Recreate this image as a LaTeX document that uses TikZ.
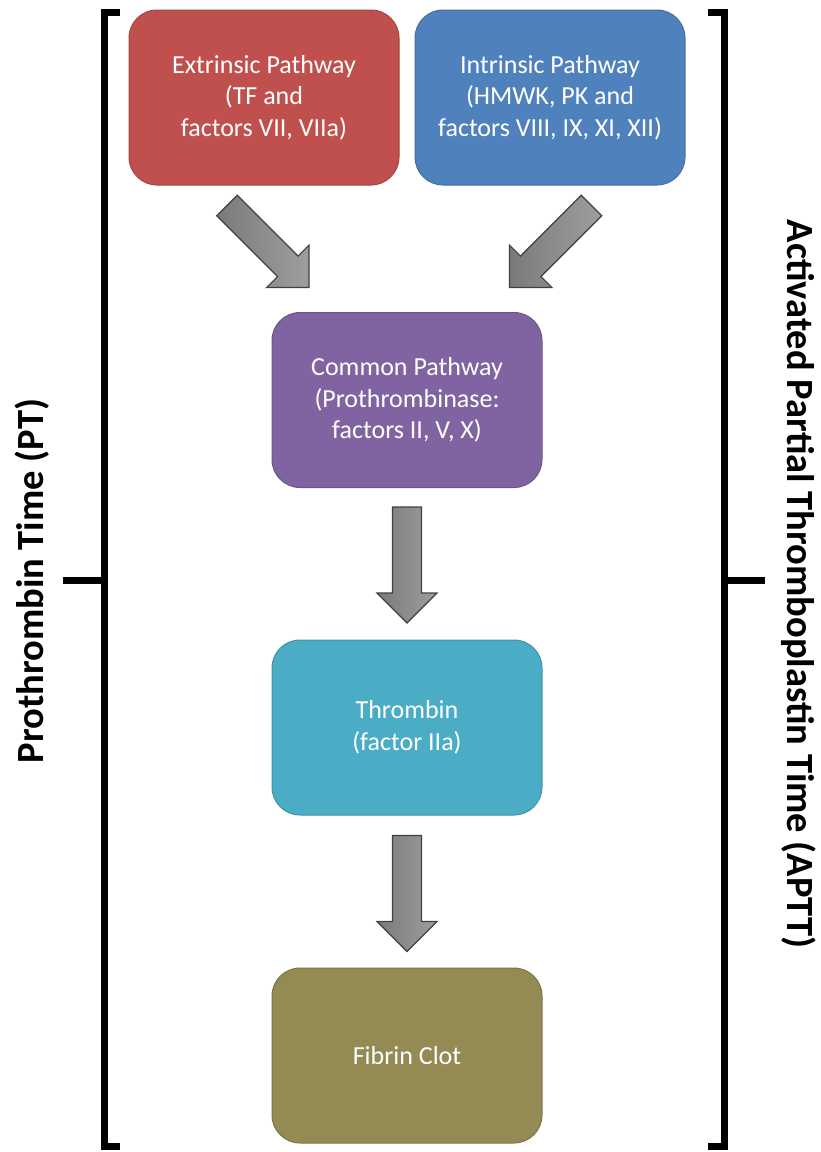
\documentclass[tikz,border=0pt]{standalone}
\usepackage{fontspec}
\setmainfont{Carlito}
\usetikzlibrary{calc}
\definecolor{cred}{HTML}{C0504D}
\definecolor{cblue}{HTML}{4F81BD}
\definecolor{cpurple}{HTML}{8064A2}
\definecolor{caqua}{HTML}{4BACC6}
\definecolor{colive}{HTML}{948A54}
\begin{document}
\begin{tikzpicture}[x=1pt,y=-1pt,
  box/.style={rectangle, rounded corners=28pt, minimum width=270pt, minimum height=175pt,
    inner sep=0pt, align=center, text=white, line width=1pt,
    font=\fontsize{26}{31.5}\selectfont},
  bracket/.style={line width=7pt, line join=miter, line cap=butt},
  vlabel/.style={font=\fontsize{38.5}{40}\selectfont\bfseries, inner sep=0pt, anchor=base},
  arrowbody/.style={left color=black!52, right color=black!38, draw=black!75, line width=1.2pt, line join=miter},
  blockarrow/.pic={\path[arrowbody] (0,-14.5) -- (86,-14.5) -- (86,-30) -- (116,0) -- (86,30) -- (86,14.5) -- (0,14.5) -- cycle;}
]
\useasboundingbox (0,0) rectangle (820,1152);

% boxes
\node[box, fill=cred, draw=cred!85!black] (ext) at (264,97.5) {Extrinsic Pathway\\(TF and\\factors VII, VIIa)};
\node[box, fill=cblue, draw=cblue!85!black] (int) at (550,97.5) {Intrinsic Pathway\\(HMWK, PK and\\factors VIII, IX, XI, XII)};
\node[box, fill=cpurple, draw=cpurple!85!black] (com) at (407,400) {Common Pathway\\(Prothrombinase:\\factors II, V, X)};
\node[box, fill=caqua, draw=caqua!85!black] (thr) at (407,727.5) {Thrombin\\(factor IIa)};
\node[box, fill=colive, draw=colive!85!black] (fib) at (407,1055.5) {Fibrin Clot};

% block arrows
\coordinate (a1) at ($(ext.south)+(-37,20)$);
\coordinate (a2) at ($(int.south)+(41.5,20)$);
\coordinate (a3) at ($(com.south)+(0,19)$);
\coordinate (a4) at ($(thr.south)+(0,20)$);
\pic[rotate=-45] at (a1) {blockarrow};
\pic[rotate=-135] at (a2) {blockarrow};
\pic[rotate=-90] at (a3) {blockarrow};
\pic[rotate=-90] at (a4) {blockarrow};

% brackets
\coordinate (lt) at (104,12.5);
\coordinate (lb) at (104,1146);
\coordinate (lm) at (104,580);
\coordinate (rt) at (724,12.5);
\coordinate (rb) at (724,1146);
\coordinate (rm) at (724,580);
\draw[bracket] ($(lt)+(16,0)$) -- (lt) -- (lb) -- ($(lb)+(16,0)$);
\draw[bracket] (lm) -- ($(lm)+(-41,0)$);
\draw[bracket] ($(rt)+(-16,0)$) -- (rt) -- (rb) -- ($(rb)+(-16,0)$);
\draw[bracket] (rm) -- ($(rm)+(41,0)$);

% labels
\node[vlabel, rotate=90] (pt) at (43,581) {Prothrombin Time (PT)};
\node[vlabel, rotate=-90] (aptt) at (787,584) {Activated Partial Thromboplastin Time (APTT)};
\end{tikzpicture}
\end{document}
